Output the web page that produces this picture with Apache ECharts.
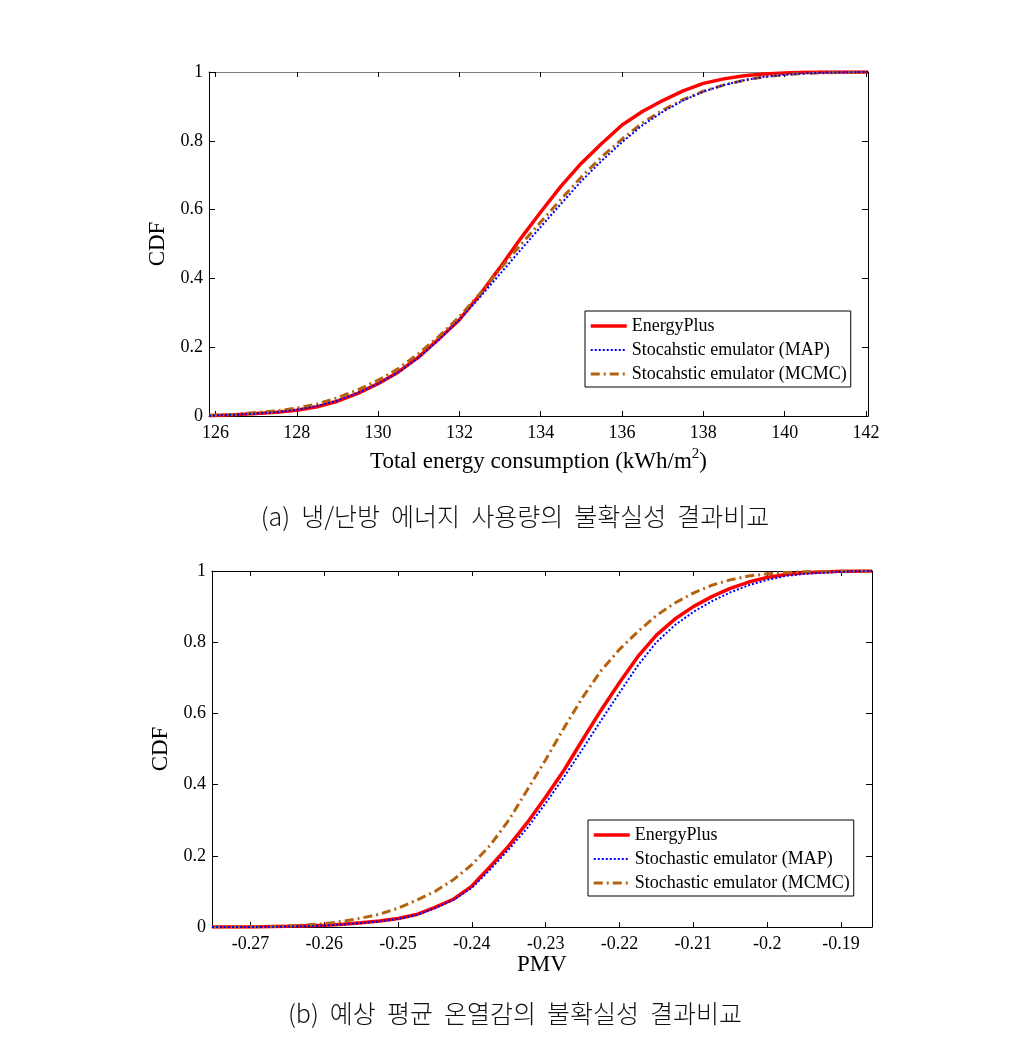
<!DOCTYPE html>
<html>
<head>
<meta charset="utf-8">
<script src="https://cdn.jsdelivr.net/npm/echarts@6/dist/echarts.min.js"></script>
<style>
  html, body { margin: 0; padding: 0; background: #fff; }
  #chart { width: 1030px; height: 1045px; }
</style>
</head>
<body>
<div id="chart"></div>
<script>
// (a) total energy consumption CDF
const energyX = [125.84, 126.5, 127, 127.5, 128, 128.5, 129, 129.5, 130, 130.5, 131, 131.5, 132, 132.5, 133, 133.5, 134, 134.5, 135, 135.5, 136, 136.5, 137, 137.5, 138, 138.5, 139, 139.5, 140, 140.5, 141, 141.5, 142, 142.05];
const energyPlus = [0.001, 0.004, 0.007, 0.011, 0.017, 0.027, 0.043, 0.066, 0.094, 0.128, 0.172, 0.225, 0.28, 0.352, 0.432, 0.515, 0.593, 0.668, 0.735, 0.792, 0.846, 0.885, 0.917, 0.945, 0.967, 0.98, 0.989, 0.994, 0.997, 0.999, 1.0, 1.0, 1.0, 1.0];
const energyMap = [0.001, 0.004, 0.007, 0.011, 0.018, 0.029, 0.045, 0.067, 0.094, 0.127, 0.17, 0.222, 0.28, 0.345, 0.413, 0.482, 0.55, 0.617, 0.683, 0.742, 0.796, 0.845, 0.884, 0.917, 0.943, 0.962, 0.976, 0.986, 0.992, 0.996, 0.998, 0.999, 1.0, 1.0];
const energyMcmc = [0.002, 0.005, 0.01, 0.015, 0.023, 0.035, 0.053, 0.076, 0.104, 0.138, 0.182, 0.232, 0.289, 0.355, 0.427, 0.497, 0.564, 0.63, 0.695, 0.753, 0.805, 0.852, 0.889, 0.92, 0.944, 0.962, 0.976, 0.986, 0.992, 0.996, 0.998, 0.999, 1.0, 1.0];
const energyTicks = [126, 128, 130, 132, 134, 136, 138, 140, 142];

// (b) PMV CDF
const pmvX = [-0.2752, -0.27, -0.265, -0.26, -0.2575, -0.255, -0.2525, -0.25, -0.2475, -0.245, -0.2425, -0.24, -0.2375, -0.235, -0.2325, -0.23, -0.2275, -0.225, -0.2225, -0.22, -0.2175, -0.215, -0.2125, -0.21, -0.2075, -0.205, -0.2025, -0.2, -0.1975, -0.195, -0.19, -0.1858];
const pmvPlus = [0, 0, 0.002, 0.005, 0.008, 0.012, 0.017, 0.024, 0.035, 0.055, 0.078, 0.115, 0.17, 0.228, 0.293, 0.365, 0.441, 0.526, 0.609, 0.687, 0.76, 0.82, 0.865, 0.9, 0.928, 0.951, 0.969, 0.982, 0.99, 0.995, 0.999, 1.0];
const pmvMap = [0, 0, 0.001, 0.004, 0.007, 0.011, 0.016, 0.023, 0.034, 0.053, 0.076, 0.11, 0.162, 0.218, 0.278, 0.348, 0.422, 0.5, 0.58, 0.658, 0.735, 0.8, 0.848, 0.885, 0.915, 0.94, 0.96, 0.975, 0.986, 0.992, 0.998, 1.0];
const pmvMcmc = [0, 0, 0.003, 0.009, 0.016, 0.025, 0.036, 0.053, 0.075, 0.1, 0.133, 0.175, 0.23, 0.3, 0.385, 0.47, 0.56, 0.645, 0.72, 0.78, 0.83, 0.875, 0.91, 0.938, 0.96, 0.975, 0.986, 0.992, 0.996, 0.998, 1.0, 1.0];
const pmvTicks = [-0.27, -0.26, -0.25, -0.24, -0.23, -0.22, -0.21, -0.2, -0.19];

const serif = 'Liberation Serif';
const red = '#ff0000';
const blue = '#0000ff';
const brown = '#b5620e';
const dashDot = [9, 4, 2, 4];

const chart = echarts.init(document.getElementById('chart'));

const zip = (xs, ys) => xs.map((x, i) => [x, ys[i]]);

function bottomAxis(grid, min, max, ticks, name, nameGap) {
  return {
    type: 'value', gridIndex: grid, position: 'bottom', min: min, max: max,
    name: name, nameLocation: 'middle', nameGap: nameGap,
    nameTextStyle: {
      fontFamily: serif, fontSize: 23, color: '#000',
      rich: { sup: { fontFamily: serif, fontSize: 15, color: '#000', padding: [0, 0, 14, 0] } }
    },
    axisLine: { show: true, onZero: false, lineStyle: { color: '#000', width: 1 } },
    axisTick: { show: true, inside: true, length: 5, customValues: ticks, lineStyle: { color: '#000' } },
    axisLabel: { customValues: ticks, margin: 8, fontFamily: serif, fontSize: 18, color: '#000' },
    splitLine: { show: false }
  };
}

function topAxis(grid, min, max, ticks, lineColor) {
  return {
    type: 'value', gridIndex: grid, position: 'top', min: min, max: max,
    axisLine: { show: true, onZero: false, lineStyle: { color: lineColor, width: 1 } },
    axisTick: { show: true, inside: true, length: 5, customValues: ticks, lineStyle: { color: '#000' } },
    axisLabel: { show: false },
    splitLine: { show: false }
  };
}

function leftAxis(grid, nameGap) {
  return {
    type: 'value', gridIndex: grid, position: 'left', min: 0, max: 1, interval: 0.2,
    name: 'CDF', nameLocation: 'middle', nameGap: nameGap,
    nameTextStyle: { fontFamily: serif, fontSize: 23, color: '#000' },
    axisLine: { show: true, onZero: false, lineStyle: { color: '#000', width: 1 } },
    axisTick: { show: true, inside: true, length: 6, lineStyle: { color: '#000' } },
    axisLabel: { margin: 6, fontFamily: serif, fontSize: 18, color: '#000' },
    splitLine: { show: false }
  };
}

function rightAxis(grid) {
  return {
    type: 'value', gridIndex: grid, position: 'right', min: 0, max: 1, interval: 0.2,
    axisLine: { show: true, onZero: false, lineStyle: { color: '#000', width: 1 } },
    axisTick: { show: true, inside: true, length: 6, lineStyle: { color: '#000' } },
    axisLabel: { show: false },
    splitLine: { show: false }
  };
}

function line(name, xi, yi, data, color, width, type) {
  return {
    name: name, type: 'line', xAxisIndex: xi, yAxisIndex: yi, data: data,
    symbol: 'none', smooth: false,
    lineStyle: { color: color, width: width, type: type },
    itemStyle: { color: color },
    z: name === 'EnergyPlus' ? 2 : 3
  };
}

function legendBox(left, top, names) {
  return {
    orient: 'vertical', left: left, top: top,
    data: [
      { name: names[0], lineStyle: { width: 3.5, color: red, type: 'solid' } },
      { name: names[1], lineStyle: { width: 2, color: blue, type: [2, 2] } },
      { name: names[2], lineStyle: { width: 3, color: brown, type: dashDot } }
    ],
    itemWidth: 36, itemHeight: 14, itemGap: 4,
    padding: [5, 4, 3, 4],
    borderColor: '#000', borderWidth: 1, backgroundColor: '#fff',
    itemStyle: { opacity: 0 },
    textStyle: { fontFamily: serif, fontSize: 18, color: '#000', lineHeight: 20 },
    selectedMode: false
  };
}

const option = {
  backgroundColor: '#fff',
  animation: false,
  grid: [
    { left: 209, top: 72, width: 659, height: 344 },
    { left: 212, top: 571, width: 660, height: 356 }
  ],
  xAxis: [
    bottomAxis(0, 125.84, 142.05, energyTicks, 'Total energy consumption (kWh/m{sup|2})', 31),
    topAxis(0, 125.84, 142.05, energyTicks, '#808080'),
    bottomAxis(1, -0.2752, -0.1858, pmvTicks, 'PMV', 24),
    topAxis(1, -0.2752, -0.1858, pmvTicks, '#000')
  ],
  yAxis: [leftAxis(0, 30), rightAxis(0), leftAxis(1, 27), rightAxis(1)],
  legend: [
    legendBox(585, 311, ['EnergyPlus', 'Stocahstic emulator (MAP)', 'Stocahstic emulator (MCMC)']),
    legendBox(588, 820, ['EnergyPlus', 'Stochastic emulator (MAP)', 'Stochastic emulator (MCMC)'])
  ],
  series: [
    line('Stocahstic emulator (MCMC)', 0, 0, zip(energyX, energyMcmc), brown, 3, dashDot),
    line('Stocahstic emulator (MAP)', 0, 0, zip(energyX, energyMap), blue, 2, [2, 2]),
    line('EnergyPlus', 0, 0, zip(energyX, energyPlus), red, 3.5, 'solid'),
    line('Stochastic emulator (MCMC)', 2, 2, zip(pmvX, pmvMcmc), brown, 3, dashDot),
    line('Stochastic emulator (MAP)', 2, 2, zip(pmvX, pmvMap), blue, 2, [2, 2]),
    line('EnergyPlus', 2, 2, zip(pmvX, pmvPlus), red, 3.5, 'solid')
  ],
  graphic: [
    {
      type: 'text', left: 'center', top: 504,
      style: { text: '(a)  냉/난방  에너지  사용량의  불확실성  결과비교', font: '300 25px "Noto Sans CJK KR"', fill: '#111' }
    },
    {
      type: 'text', left: 'center', top: 1001,
      style: { text: '(b)  예상  평균  온열감의  불확실성  결과비교', font: '300 25px "Noto Sans CJK KR"', fill: '#111' }
    }
  ]
};

chart.setOption(option);
</script>
</body>
</html>
